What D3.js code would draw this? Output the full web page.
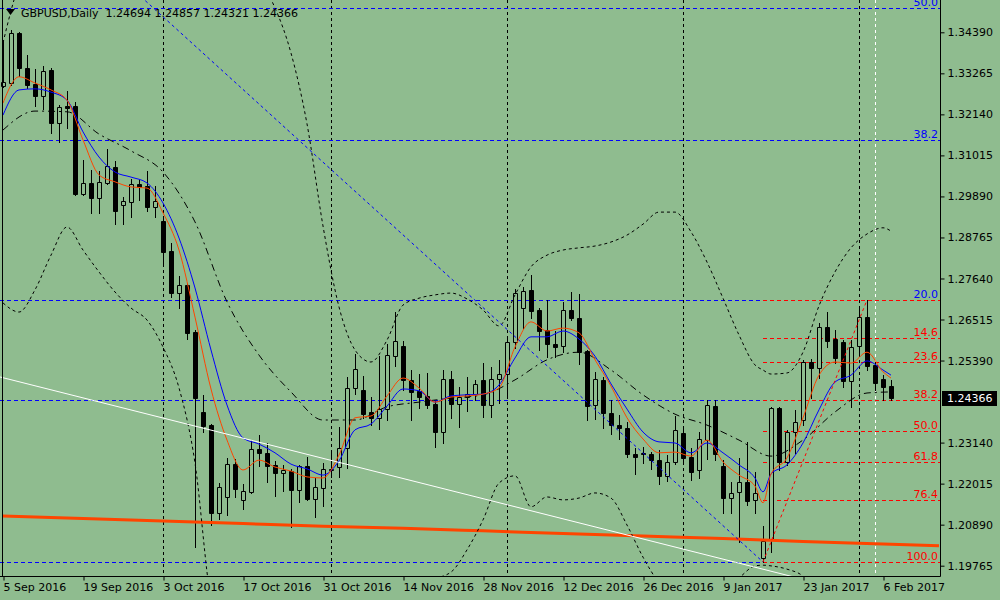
<!DOCTYPE html>
<html>
<head>
<meta charset="utf-8">
<script src="https://cdn.jsdelivr.net/npm/d3@7"></script>
<style>
  html, body { margin: 0; padding: 0; background: #8FBC8F; }
  svg { display: block; }
  text { font-family: "DejaVu Sans", sans-serif; font-size: 11px; }
</style>
</head>
<body>
<div id="chart"></div>
<script>
// GBPUSD daily, one candle per trading day from 5 Sep 2016
var dateTicks = ["5 Sep 2016", "19 Sep 2016", "3 Oct 2016", "17 Oct 2016", "31 Oct 2016", "14 Nov 2016",
                 "28 Nov 2016", "12 Dec 2016", "26 Dec 2016", "9 Jan 2017", "23 Jan 2017", "6 Feb 2017"];
var dateTickBars = [0, 10, 20, 30, 40, 50, 60, 70, 80, 90, 100, 110];
var monthStartBars = [20, 41, 63, 85, 107];

// 1.24265 sits under the current price tag, so it is left out
var priceTicks = [1.34390, 1.33265, 1.32140, 1.31015, 1.29890, 1.28765, 1.27640, 1.26515,
                  1.25390, 1.23140, 1.22015, 1.20890, 1.19765];

var opens = [1.32918,1.33000,1.34371,1.33412,1.32973,1.32644,1.33357,1.31903,1.32369,1.32369,
  1.29957,1.30258,1.29847,1.30258,1.30697,1.29655,1.29737,1.30231,1.30176,1.29600,
  1.29216,1.28393,1.27242,1.27461,1.26172,1.23979,1.23623,1.21211,1.21648,1.22553,
  1.21567,1.21786,1.22965,1.22855,1.22526,1.22307,1.22362,1.21841,1.22498,1.21594,
  1.21896,1.22389,1.22471,1.22992,1.24637,1.24582,1.23979,1.23815,1.24061,1.25514,
  1.25788,1.24856,1.24555,1.24418,1.24198,1.23431,1.24884,1.24198,1.24390,1.24472,
  1.24856,1.24171,1.24884,1.25021,1.25898,1.26831,1.27324,1.26776,1.26227,1.25843,
  1.25788,1.26776,1.26557,1.25651,1.24171,1.24856,1.23952,1.23623,1.23541,1.22827,
  1.22855,1.22827,1.22663,1.22224,1.22608,1.23403,1.22745,1.22389,1.23211,1.24143,
  1.22498,1.21621,1.21786,1.22060,1.21567,1.19977,1.20471,1.24089,1.22608,1.23431,
  1.23760,1.25349,1.25185,1.26310,1.25980,1.25898,1.24829,1.25788,1.26584,1.25267,
  1.24884,1.24694];
var highs = [1.34179,1.34453,1.34399,1.33768,1.33384,1.33466,1.33412,1.32397,1.32781,1.32479,
  1.30889,1.30615,1.30587,1.31191,1.30861,1.29874,1.30368,1.30341,1.30587,1.30176,
  1.29326,1.28614,1.27708,1.27516,1.26227,1.24445,1.23650,1.22032,1.22718,1.22690,
  1.22005,1.23211,1.23348,1.23129,1.22635,1.22526,1.22416,1.22526,1.22745,1.22170,
  1.22580,1.22855,1.23568,1.24939,1.25569,1.24966,1.24390,1.25514,1.25843,1.26721,
  1.25925,1.25130,1.25021,1.25048,1.24281,1.25130,1.25103,1.24664,1.24939,1.24856,
  1.25322,1.25212,1.25404,1.26036,1.27352,1.27407,1.27736,1.26831,1.27050,1.26201,
  1.26995,1.27269,1.27214,1.25678,1.25075,1.24939,1.24308,1.23897,1.23705,1.22992,
  1.23019,1.22882,1.22937,1.22800,1.23870,1.23513,1.22992,1.23431,1.24308,1.24308,
  1.22663,1.22060,1.22718,1.23156,1.22334,1.20855,1.24116,1.24116,1.23486,1.24034,
  1.25404,1.25431,1.26419,1.26721,1.26227,1.25953,1.25953,1.26831,1.27050,1.25349,
  1.24994,1.24857];
var lows = [1.32891,1.32945,1.33192,1.32863,1.32369,1.32287,1.31629,1.31382,1.31766,1.29930,
  1.29930,1.29436,1.29436,1.30231,1.29134,1.29134,1.29326,1.29792,1.29490,1.29326,
  1.28065,1.27132,1.26831,1.25981,1.20278,1.23431,1.20882,1.21046,1.21156,1.21648,
  1.21320,1.21758,1.22498,1.22060,1.21676,1.21813,1.20827,1.21512,1.21567,1.21101,
  1.21402,1.22197,1.22197,1.22444,1.24472,1.23815,1.23623,1.23513,1.23760,1.25240,
  1.24582,1.23760,1.24089,1.24089,1.23019,1.23129,1.23815,1.23568,1.24006,1.24308,
  1.23842,1.23842,1.24226,1.24390,1.25733,1.26283,1.26557,1.25678,1.25486,1.25486,
  1.25624,1.26502,1.25294,1.23760,1.23787,1.23541,1.23376,1.23239,1.22745,1.22279,
  1.22580,1.22416,1.22005,1.22087,1.22553,1.22608,1.22115,1.22170,1.22690,1.22663,
  1.21211,1.21211,1.20415,1.21430,1.21211,1.19867,1.20141,1.22389,1.22526,1.22855,
  1.23623,1.24363,1.24911,1.25761,1.25322,1.24664,1.24116,1.25541,1.25130,1.24582,
  1.24308,1.24321];
var closes = [1.33028,1.34371,1.33412,1.32945,1.32644,1.33329,1.31903,1.32342,1.32315,1.29957,
  1.30258,1.29847,1.30286,1.30724,1.29490,1.29765,1.30231,1.30149,1.29600,1.29765,
  1.28366,1.27242,1.27461,1.26145,1.24363,1.23595,1.21211,1.21923,1.22553,1.21868,
  1.21813,1.22965,1.22855,1.22498,1.22307,1.22389,1.21841,1.22498,1.21594,1.21923,
  1.22416,1.22416,1.22992,1.24637,1.25158,1.23924,1.23815,1.24061,1.25541,1.25925,
  1.24856,1.24527,1.24390,1.24171,1.23431,1.24884,1.24198,1.24390,1.24472,1.24747,
  1.24171,1.24884,1.25021,1.25898,1.27242,1.27297,1.26749,1.26201,1.25843,1.25761,
  1.26776,1.26557,1.25624,1.24143,1.24884,1.23952,1.23623,1.23541,1.22827,1.22745,
  1.22827,1.22663,1.22224,1.22608,1.23486,1.22718,1.22334,1.23239,1.24171,1.22827,
  1.21621,1.21758,1.22060,1.21539,1.21758,1.20443,1.24089,1.22608,1.23431,1.23705,
  1.25349,1.25185,1.26310,1.25925,1.25459,1.24829,1.25761,1.26584,1.25240,1.24774,
  1.24664,1.24366];

// indicator readings, sampled every second bar (plus the bar 95 low and the last bar)
var sampleBars = d3.range(0, 95, 2).concat([95, 96, 98, 100, 102, 104, 106, 108, 110, 111]);
var maFast = [1.3245,1.3317,1.3300,1.3281,1.3253,1.3144,1.3048,1.3029,1.3015,1.3012,
  1.2944,1.2842,1.2658,1.2461,1.2321,1.2239,1.2266,1.2247,1.2236,1.2220,
  1.2217,1.2280,1.2382,1.2387,1.2442,1.2491,1.2464,1.2425,1.2439,1.2442,
  1.2447,1.2464,1.2576,1.2645,1.2620,1.2628,1.2615,1.2541,1.2469,1.2382,
  1.2324,1.2286,1.2288,1.2277,1.2321,1.2261,1.2225,1.2195,1.2149,1.2228,
  1.2272,1.2382,1.2499,1.2535,1.2532,1.2562,1.2508,1.2491];
var maSlow = [1.3212,1.3281,1.3284,1.3275,1.3253,1.3166,1.3097,1.3056,1.3042,1.3026,
  1.2971,1.2875,1.2738,1.2568,1.2417,1.2327,1.2310,1.2286,1.2255,1.2242,
  1.2225,1.2264,1.2349,1.2365,1.2414,1.2461,1.2456,1.2425,1.2442,1.2445,
  1.2447,1.2472,1.2546,1.2604,1.2604,1.2620,1.2598,1.2551,1.2475,1.2406,
  1.2343,1.2316,1.2313,1.2286,1.2313,1.2286,1.2253,1.2217,1.2179,1.2228,
  1.2253,1.2313,1.2404,1.2480,1.2499,1.2538,1.2513,1.2499];
var bandUpper = [1.3410,1.3569,1.3637,1.3692,1.3733,1.3761,1.3774,1.3774,1.3761,1.3747,
  1.3733,1.3720,1.3706,1.3678,1.3651,1.3624,1.3582,1.3506,1.3382,1.3188,
  1.2908,1.2686,1.2568,1.2535,1.2595,1.2691,1.2710,1.2719,1.2724,1.2708,
  1.2678,1.2634,1.2719,1.2796,1.2828,1.2842,1.2848,1.2853,1.2864,1.2883,
  1.2913,1.2946,1.2946,1.2892,1.2809,1.2710,1.2609,1.2527,1.2513,1.2502,
  1.2505,1.2562,1.2689,1.2782,1.2848,1.2886,1.2903,1.2894];
var bandLower = [1.2697,1.2672,1.2733,1.2828,1.2905,1.2842,1.2782,1.2727,1.2683,1.2650,
  1.2576,1.2464,1.2258,1.1883,1.1773,1.1691,1.1636,1.1622,1.1636,1.1691,
  1.1773,1.1841,1.1896,1.1932,1.1946,1.1943,1.1940,1.1943,1.1959,1.2020,
  1.2102,1.2203,1.2223,1.2138,1.2165,1.2157,1.2162,1.2176,1.2162,1.2088,
  1.2000,1.1929,1.1883,1.1869,1.1883,1.1910,1.1943,1.1976,1.1978,1.1976,
  1.1967,1.1948,1.1896,1.1841,1.1800,1.1773,1.1759,1.1751];

// middle line, every fourth bar
var midBars = d3.range(0, 112, 4).concat([111]);
var maMid = [1.3171,1.3223,1.3221,1.3160,1.3114,1.3056,1.2919,1.2700,1.2554,1.2453,
  1.2376,1.2376,1.2412,1.2425,1.2436,1.2445,1.2486,1.2541,1.2562,1.2513,
  1.2445,1.2392,1.2362,1.2321,1.2277,1.2321,1.2398,1.2450,1.2453];

// long average (runs a few bars past the last candle)
var longBars = [0, 10, 20, 30, 40, 50, 60, 70, 80, 90, 100, 110, 117];
var maLong = [1.2113, 1.2106, 1.2099, 1.2092, 1.2085, 1.2079, 1.2072, 1.2065, 1.2058, 1.2051, 1.2043, 1.2036, 1.2031];

// fibonacci objects
var redFibPrices = [1.27050, 1.26001, 1.25355, 1.24306, 1.23459, 1.22611, 1.21562, 1.19867];
var redFibLabels = ["", "14.6", "23.6", "38.2", "50.0", "61.8", "76.4", "100.0"];
var blueFibPrices = [1.3506, 1.3145, 1.2705, 1.2431, 1.19867];
var blueFibLabels = ["50.0", "38.2", "20.0", "", ""];

// trend lines: [bar, price] end points
var blueTrend = [[-57.7, 1.50303], [95, 1.19867]];
var redTrend = [[95, 1.19867], [108, 1.27050]];
var whiteTrend = [[-0.375, 1.2494], [110, 1.1884]];

var lastPrice = 1.24366;
var titleText = "GBPUSD,Daily  1.24694 1.24857 1.24321 1.24366";

var width = 1000, height = 600;
var plotW = 940, plotH = 576;
var bg = "#8FBC8F";

var x = d3.scaleLinear().domain([0, 117.125]).range([3, 940]);
var y = d3.scaleLinear().domain([1.34390, 1.19765]).range([32.3, 565.7]);
function px(v) { return Math.round(v) + 0.5; }

var svg = d3.select("#chart").append("svg")
  .attr("width", width)
  .attr("height", height);

svg.append("rect").attr("width", width).attr("height", height).attr("fill", bg);

svg.append("clipPath").attr("id", "plot")
  .append("rect").attr("x", 0).attr("y", 0).attr("width", plotW).attr("height", plotH);

var g = svg.append("g").attr("clip-path", "url(#plot)");

// month separators
g.selectAll(".sep").data(monthStartBars).enter().append("line")
  .attr("x1", function(d) { return px(x(d)); })
  .attr("x2", function(d) { return px(x(d)); })
  .attr("y1", 0).attr("y2", plotH)
  .attr("stroke", "#000").attr("stroke-dasharray", "3,3");

// white vertical line
g.append("line")
  .attr("x1", px(x(109))).attr("x2", px(x(109)))
  .attr("y1", 0).attr("y2", plotH)
  .attr("stroke", "#fff").attr("stroke-dasharray", "3,3");

// blue fib levels (full width)
g.selectAll(".bfib").data(blueFibPrices).enter().append("line")
  .attr("x1", 0).attr("x2", plotW)
  .attr("y1", function(d) { return px(y(d)); })
  .attr("y2", function(d) { return px(y(d)); })
  .attr("stroke", "#0000FF").attr("stroke-dasharray", "4,3");

// red fib levels from the swing low to the right edge
g.selectAll(".rfib").data(redFibPrices).enter().append("line")
  .attr("x1", x(95)).attr("x2", plotW)
  .attr("y1", function(d) { return px(y(d)); })
  .attr("y2", function(d) { return px(y(d)); })
  .attr("stroke", "#FF0000").attr("stroke-dasharray", "4,3");

// candles
var bars = opens.map(function(o, i) {
  return { i: i, o: o, h: highs[i], l: lows[i], c: closes[i] };
});
var cg = g.selectAll(".bar").data(bars).enter().append("g");
cg.append("line")
  .attr("x1", function(d) { return px(x(d.i)); })
  .attr("x2", function(d) { return px(x(d.i)); })
  .attr("y1", function(d) { return Math.round(y(d.h)); })
  .attr("y2", function(d) { return Math.round(y(d.l)) + 1; })
  .attr("stroke", "#000");
cg.append("path")
  .attr("d", function(d) {
    var x0 = Math.round(x(d.i)) - 2 + 0.5;
    var top = px(y(Math.max(d.o, d.c)));
    var bot = px(y(Math.min(d.o, d.c)));
    return "M" + x0 + "," + top + "h4V" + bot + "h-4Z";
  })
  .attr("fill", function(d) { return d.c >= d.o ? bg : "#000"; })
  .attr("stroke", "#000");

// indicator lines
function pairs(idx, vals) { return idx.map(function(b, k) { return [b, vals[k]]; }); }
var lineGen = d3.line()
  .x(function(d) { return x(d[0]); })
  .y(function(d) { return y(d[1]); })
  .curve(d3.curveMonotoneX);
var straight = d3.line()
  .x(function(d) { return x(d[0]); })
  .y(function(d) { return y(d[1]); });

g.append("path").attr("d", lineGen(pairs(longBars, maLong)))
  .attr("fill", "none").attr("stroke", "#FF4500").attr("stroke-width", 3);
g.append("path").attr("d", lineGen(pairs(sampleBars, bandUpper)))
  .attr("fill", "none").attr("stroke", "#000").attr("stroke-dasharray", "3,3");
g.append("path").attr("d", lineGen(pairs(sampleBars, bandLower)))
  .attr("fill", "none").attr("stroke", "#000").attr("stroke-dasharray", "3,3");
g.append("path").attr("d", lineGen(pairs(midBars, maMid)))
  .attr("fill", "none").attr("stroke", "#000").attr("stroke-dasharray", "7,4,2,4");
g.append("path").attr("d", lineGen(pairs(sampleBars, maSlow)))
  .attr("fill", "none").attr("stroke", "#0000FF");
g.append("path").attr("d", lineGen(pairs(sampleBars, maFast)))
  .attr("fill", "none").attr("stroke", "#FF4500");

// trend lines
g.append("path").attr("d", straight(blueTrend))
  .attr("fill", "none").attr("stroke", "#0000FF").attr("stroke-dasharray", "3,3");
g.append("path").attr("d", straight(redTrend))
  .attr("fill", "none").attr("stroke", "#FF0000").attr("stroke-dasharray", "3,3");
g.append("path").attr("d", straight(whiteTrend))
  .attr("fill", "none").attr("stroke", "#fff");

// fib labels (the top one is clipped by the chart edge, as on the terminal)
g.selectAll(".rlab").data(redFibPrices).enter().append("text")
  .attr("x", 938).attr("y", function(d) { return Math.round(y(d)) - 2; })
  .attr("text-anchor", "end").attr("fill", "#FF0000")
  .text(function(d, i) { return redFibLabels[i]; });
g.selectAll(".blab").data(blueFibPrices).enter().append("text")
  .attr("x", 938).attr("y", function(d) { return Math.round(y(d)) - 2; })
  .attr("text-anchor", "end").attr("fill", "#0000FF")
  .text(function(d, i) { return blueFibLabels[i]; });

// frame
svg.append("line").attr("x1", 2.5).attr("x2", 2.5).attr("y1", 0).attr("y2", plotH)
  .attr("stroke", "#000");
svg.append("line").attr("x1", 0).attr("x2", plotW + 0.5).attr("y1", plotH + 0.5).attr("y2", plotH + 0.5)
  .attr("stroke", "#000");
svg.append("line").attr("x1", plotW + 0.5).attr("x2", plotW + 0.5).attr("y1", 0).attr("y2", plotH + 0.5)
  .attr("stroke", "#000");

// price axis
var yAxis = svg.append("g")
  .attr("transform", "translate(" + (plotW + 0.5) + ",0)")
  .call(d3.axisRight(y).tickValues(priceTicks).tickSize(4).tickPadding(3)
    .tickFormat(d3.format(".5f")));
yAxis.select(".domain").remove();
yAxis.selectAll("text").attr("font-family", "DejaVu Sans").attr("font-size", "11px").attr("fill", "#000");

// time axis
var xAxis = svg.append("g")
  .attr("transform", "translate(0," + (plotH + 0.5) + ")")
  .call(d3.axisBottom(x).tickValues(dateTickBars).tickSize(4).tickPadding(3)
    .tickFormat(function(d, i) { return dateTicks[i]; }));
xAxis.select(".domain").remove();
xAxis.selectAll(".tick line").attr("transform", "translate(0.5,0)");
xAxis.selectAll("text").attr("text-anchor", "start")
  .attr("font-family", "DejaVu Sans").attr("font-size", "11px").attr("fill", "#000");

// current price tag
var py = Math.round(y(lastPrice));
svg.append("rect").attr("x", 942).attr("y", py - 7).attr("width", 55).attr("height", 15).attr("fill", "#000");
svg.append("text").attr("x", 947).attr("y", py + 4).attr("fill", "#fff").text(lastPrice.toFixed(5));

// title
svg.append("path").attr("d", "M6,9L15,9L10.5,15Z").attr("fill", "#000");
svg.append("text").attr("x", 21).attr("y", 17).attr("fill", "#000")
  .style("white-space", "pre").text(titleText);
</script>
</body>
</html>
